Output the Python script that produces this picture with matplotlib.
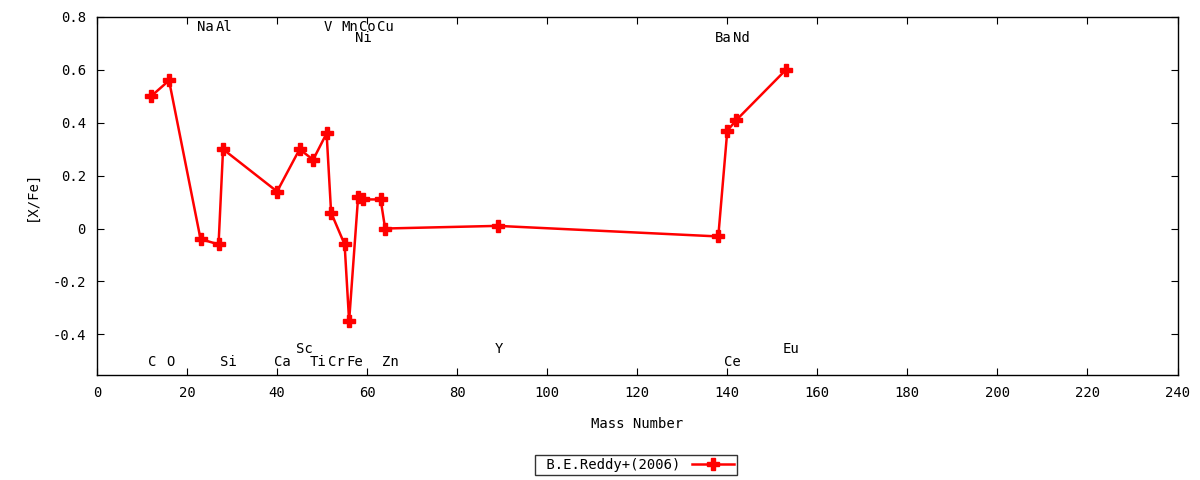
import matplotlib
matplotlib.use("Agg")
import matplotlib.pyplot as plt

plt.rcParams['font.family'] = ['DejaVu Sans Mono']
plt.rcParams['font.size'] = 10

# B.E.Reddy+(2006) abundances
mass = [12, 16, 23, 27, 28, 40, 45, 48, 51, 52, 55, 56, 58, 59, 63, 64, 89, 138, 140, 142, 153]
xfe = [0.50, 0.56, -0.04, -0.06, 0.30, 0.14, 0.30, 0.26, 0.36, 0.06, -0.06, -0.35,
       0.12, 0.11, 0.11, 0.00, 0.01, -0.03, 0.37, 0.41, 0.60]

# element labels: name, mass number, row
elem_names = ['C', 'O', 'Na', 'Al', 'Si', 'Ca', 'Sc', 'Ti', 'V', 'Cr', 'Mn', 'Fe',
              'Ni', 'Co', 'Cu', 'Zn', 'Y', 'Ba', 'Ce', 'Nd', 'Eu']
elem_mass = [12, 16, 23, 27, 28, 40, 45, 48, 51, 52, 55, 56, 58, 59, 63, 64, 89, 138, 140, 142, 153]
elem_row = ['b', 'b', 't', 't', 'b', 'b', 'b2', 'b', 't', 'b', 't', 'b',
            't2', 't', 't', 'b', 'b2', 't2', 'b', 't2', 'b2']
row_y = {'t': 0.762, 't2': 0.722, 'b': -0.505, 'b2': -0.455}

fig = plt.figure(figsize=(12, 4.8), dpi=100)
ax = fig.add_axes([97/1200, 1-375/480, (1177.5-97)/1200, (375-17)/480])

ax.plot(mass, xfe, color='#ff0000', lw=1.8, marker='P', ms=8,
        label=' B.E.Reddy+(2006)')

for n, m, r in zip(elem_names, elem_mass, elem_row):
    ax.text(m - 0.7, row_y[r], n, ha='left', va='center')

ax.set_xlim(0, 240)
ax.set_ylim(-0.554, 0.8)
ax.set_xticks(range(0, 241, 20))
ax.set_yticks([-0.4, -0.2, 0, 0.2, 0.4, 0.6, 0.8])
ax.set_yticklabels(['-0.4', '-0.2', '0', '0.2', '0.4', '0.6', '0.8'])
ax.tick_params(direction='in', top=True, right=True, length=5, pad=8)
for s in ax.spines.values():
    s.set_linewidth(1.0)

ax.set_xlabel('Mass Number', labelpad=12)
ax.set_ylabel('[X/Fe]', labelpad=10)

leg = fig.legend(loc='center', bbox_to_anchor=(636/1200, 1-465/480), frameon=True,
                 fancybox=False, edgecolor='black', markerfirst=False,
                 handlelength=3.0, borderpad=0.25, fontsize=10)
leg.get_frame().set_linewidth(1.0)

fig.savefig('out.png', dpi=100)
